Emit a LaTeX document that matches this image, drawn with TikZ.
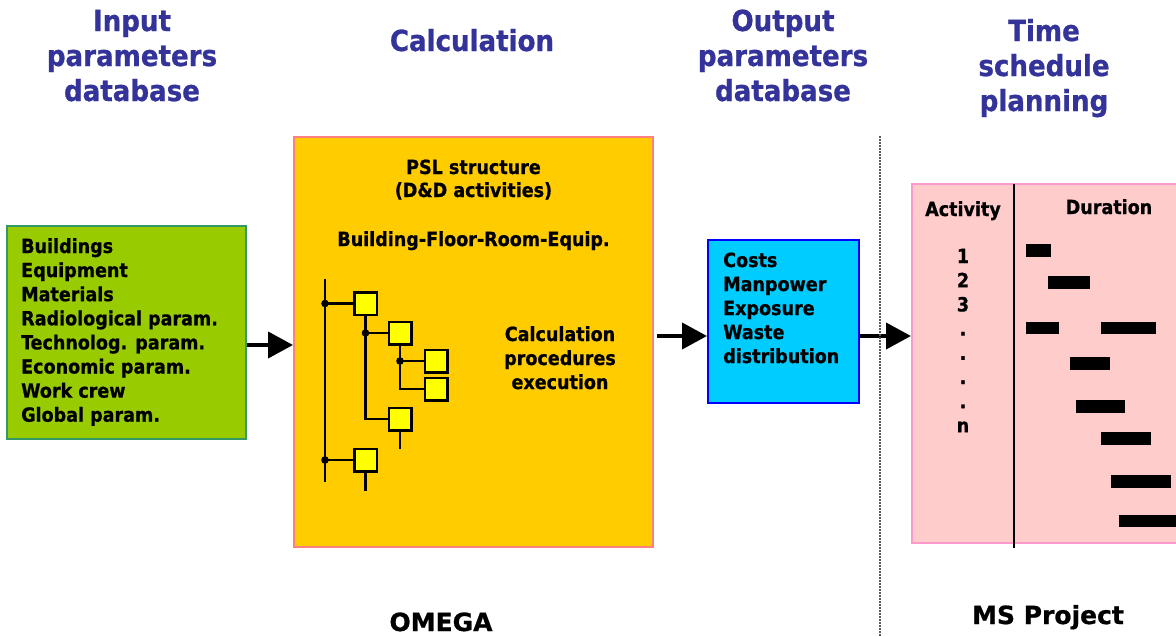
\documentclass[tikz,border=0pt]{standalone}
\usepackage{fontspec}
\setmainfont{DejaVu Sans Condensed}[BoldFeatures={FakeBold=0.8}]
\newfontfamily\widefont{DejaVu Sans}[BoldFeatures={FakeBold=0.8}]
\usetikzlibrary{arrows.meta}
\pgfdeclarelayer{front}
\pgfsetlayers{main,front}
\definecolor{hdrblue}{HTML}{333399}
\definecolor{gfill}{HTML}{99CC00}
\definecolor{gline}{HTML}{339966}
\definecolor{ofill}{HTML}{FFCC00}
\definecolor{oline}{HTML}{FF8080}
\definecolor{bfill}{HTML}{00CCFF}
\definecolor{bline}{HTML}{0000FF}
\definecolor{pfill}{HTML}{FFCCCC}
\definecolor{pline}{HTML}{FF99CC}
\definecolor{sqfill}{HTML}{FFFF00}
\tikzset{
  hdr/.style={font=\bfseries\fontsize{29}{35}\selectfont, text=hdrblue, inner sep=0pt, anchor=base},
  txt/.style={font=\bfseries\fontsize{19.5}{24}\selectfont, inner sep=0pt},
  bottomlbl/.style={font=\widefont\bfseries\fontsize{25}{30}\selectfont, inner sep=0pt, anchor=base},
  box/.style={draw, line width=2pt, inner sep=0pt},
  arr/.style={line width=4pt, -{Triangle[length=25pt,width=26pt]}},
  tree/.style={line width=2.5pt},
  sq/.style={draw=black, fill=sqfill, line width=2.5pt, minimum size=22.5pt, inner sep=0pt},
  bar/.style={fill=black}
}
\begin{document}
\begin{tikzpicture}[x=1pt,y=-1pt]
\useasboundingbox (0,0) rectangle (1176,635);
\clip (0,0) rectangle (1176,635);

% headers
\foreach \t/\y [count=\i] in {Input/31, parameters/66, database/101}
  \node[hdr] (hin\i) at (132,\y) {\t};
\node[hdr] (hcalc) at (472,51) {Calculation};
\foreach \t/\y [count=\i] in {Output/31, parameters/66, database/101}
  \node[hdr] (hout\i) at (783,\y) {\t};
\foreach \t/\y [count=\i] in {Time/41, schedule/76, planning/111}
  \node[hdr] (htime\i) at (1044,\y) {\t};

% boxes
\node[box, fill=gfill, draw=gline, minimum width=239pt, minimum height=213pt] (gbox) at (126.5,332.5) {};
\node[box, fill=ofill, draw=oline, minimum width=359pt, minimum height=410pt] (obox) at (473.5,342) {};
\node[box, fill=bfill, draw=bline, minimum width=151pt, minimum height=163pt] (bbox) at (783.5,321.5) {};
\node[box, fill=pfill, draw=pline, minimum width=290pt, minimum height=359pt] (pbox) at (1057,363.5) {};

% green texts
\foreach \t [count=\i] in {Buildings, Equipment, Materials, Radiological param., Technolog. param., Economic param., Work crew, Global param.}
  \node[txt, anchor=base west] (gt\i) at (21,{253+24.1*(\i-1)}) {\t};

% blue texts
\foreach \t [count=\i] in {Costs, Manpower, Exposure, Waste, distribution}
  \node[txt, anchor=base west] (bt\i) at (723,{267+24*(\i-1)}) {\t};

% orange texts
\node[txt, anchor=base] (psl1) at (473.5,174) {PSL structure};
\node[txt, anchor=base] (psl2) at (473.5,197) {(D\&D activities)};
\node[txt, anchor=base] (bfre) at (473.5,246) {Building-Floor-Room-Equip.};
\foreach \t [count=\i] in {Calculation, procedures, execution}
  \node[txt, anchor=base] (cp\i) at (560,{341+24*(\i-1)}) {\t};

% tree
\coordinate (t0) at (325,279);
\coordinate (t1) at (325,482);
\coordinate (d1) at (325,303.5);
\coordinate (d2) at (365.5,333);
\coordinate (d3) at (400,361);
\coordinate (d4) at (325,460);
\begin{pgfonlayer}{front}
\node[sq] (s1) at (365.5,303.5) {};
\node[sq] (s2) at (400,333) {};
\node[sq] (s3a) at (436,361) {};
\node[sq] (s3b) at (436,389) {};
\node[sq] (s4) at (400,419) {};
\node[sq] (s5) at (365.5,460) {};
\end{pgfonlayer}
\draw[tree] (t0) -- (t1);
\draw[tree] (d1) -- (s1.west);
\draw[tree] (s1.south) |- (s4.west);
\draw[tree] (d2) -- (s2.west);
\draw[tree] (s2.south) |- (s3b.west);
\draw[tree] (d3) -- (s3a.west);
\draw[tree] (s4.south) -- ++(0,17) coordinate (e4);
\draw[tree] (d4) -- (s5.west);
\draw[tree] (s5.south) -- ++(0,18) coordinate (e5);
\foreach \d in {d1,d2,d3,d4} \fill (\d) circle (3.8pt);

% arrows
\coordinate (a1) at (0,345);
\coordinate (a2) at (0,336);
\draw[arr] (gbox.east |- a1) -- (obox.west |- a1);
\draw[arr, shorten <=3pt] (obox.east |- a2) -- (bbox.west |- a2);
\draw[arr] (bbox.east |- a2) -- (pbox.west |- a2);

% dotted separator
\coordinate (sep0) at (880,136);
\coordinate (sep1) at (880,640);
\draw[black!65, line width=1.5pt, dash pattern=on 1.5pt off 1.5pt] (sep0) -- (sep1);

% gantt
\coordinate (vl0) at (1014,184);
\coordinate (vl1) at (1014,548);
\draw[line width=1.5pt] (vl0) -- (vl1);
\node[txt, anchor=base] (act) at (963,216) {Activity};
\node[txt, anchor=base] (dur) at (1109,214) {Duration};
\foreach \t [count=\i] in {1,2,3,.,.,.,.,n}
  \node[txt, anchor=base] (n\i) at (963,{263+24.2*(\i-1)}) {\t};
\fill[bar] (1026,244) rectangle (1051,257);
\fill[bar] (1048,276) rectangle (1090,289);
\fill[bar] (1026,322) rectangle (1059,334);
\fill[bar] (1101,322) rectangle (1156,334);
\fill[bar] (1070,357) rectangle (1110,370);
\fill[bar] (1076,400) rectangle (1125,413);
\fill[bar] (1101,432) rectangle (1151,445);
\fill[bar] (1111,475) rectangle (1171,488);
\fill[bar] (1119,515) rectangle (1190,527);

% bottom labels
\node[bottomlbl] (omega) at (441,631) {OMEGA};
\node[bottomlbl] (msp) at (1048,624) {MS Project};
\end{tikzpicture}
\end{document}
